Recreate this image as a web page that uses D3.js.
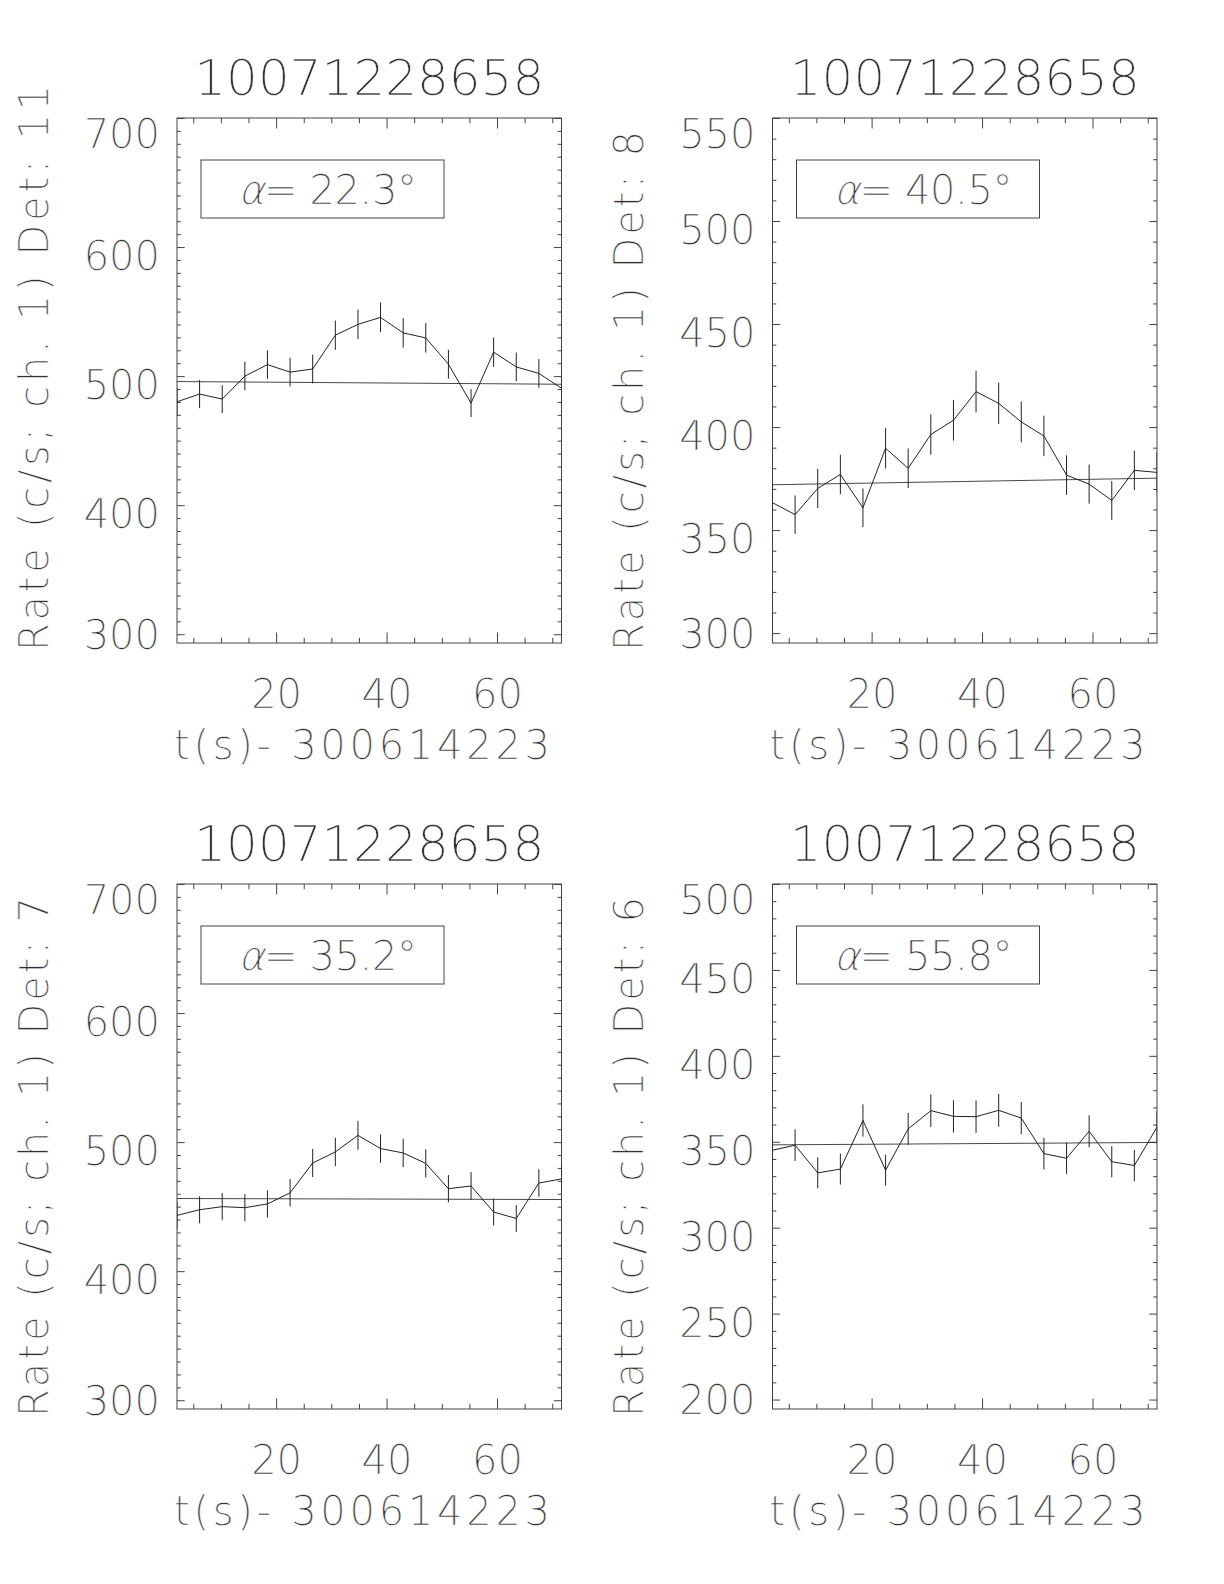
<!DOCTYPE html>
<html>
<head>
<script src="https://d3js.org/d3.v7.min.js"></script>
<style>
  body { margin: 0; background: #fff; }
</style>
</head>
<body>
<svg id="chart" width="1224" height="1584"></svg>
<script>
// time bins (s) after 300614223
var times = [2.05, 6.14, 10.24, 14.34, 18.43, 22.53, 26.62, 30.72, 34.82,
             38.91, 43.01, 47.10, 51.20, 55.30, 59.39, 63.49, 67.58, 71.68];

var titleText = "10071228658";
var xTitle = "t(s)- 300614223";
var xTicks = [20, 40, 60];

// detector 11
var det11Rate = [480.1, 486.1, 482.2, 500.0, 508.9, 503.1, 505.5, 531.7, 540.1,
                 545.5, 533.5, 529.6, 509.2, 479.1, 518.6, 507.1, 502.1, 490.6];
var det11Err = [10.8, 10.9, 10.8, 11.0, 11.1, 11.1, 11.1, 11.4, 11.5,
                11.5, 11.4, 11.4, 11.2, 10.8, 11.3, 11.1, 11.1, 10.9];
var det11Bg = [495.8, 493.7];

// detector 8
var det8Rate = [363.3, 357.5, 370.2, 377.0, 360.8, 389.7, 380.0, 396.4, 403.3,
                417.2, 411.5, 402.5, 395.7, 376.7, 372.3, 364.4, 379.0, 378.0];
var det8Err = [9.4, 9.3, 9.5, 9.6, 9.4, 9.8, 9.6, 9.8, 9.9,
               10.1, 10.0, 9.9, 9.8, 9.6, 9.5, 9.4, 9.6, 9.6];
var det8Bg = [372.0, 375.2];

// detector 7
var det7Rate = [443.2, 447.6, 450.0, 449.2, 452.1, 460.7, 483.8, 492.4, 505.2,
                495.0, 491.6, 483.5, 463.9, 466.0, 445.8, 440.8, 468.3, 471.5];
var det7Err = [10.4, 10.5, 10.5, 10.5, 10.5, 10.6, 10.9, 11.0, 11.1,
               11.0, 11.0, 10.9, 10.6, 10.7, 10.4, 10.4, 10.7, 10.7];
var det7Bg = [456.3, 455.5];

// detector 6
var det6Rate = [345.1, 348.0, 331.9, 334.1, 362.4, 333.5, 357.5, 368.1, 364.8,
                364.6, 368.3, 363.8, 343.1, 340.4, 356.1, 338.4, 336.2, 358.5];
var det6Err = [9.2, 9.2, 9.0, 9.0, 9.4, 9.0, 9.3, 9.5, 9.4,
               9.4, 9.5, 9.4, 9.2, 9.1, 9.3, 9.1, 9.1, 9.4];
var det6Bg = [348.2, 349.6];

var panels = [
  {det: "11", alpha: "22.3", rate: det11Rate, err: det11Err, bg: det11Bg,
   yDomain: [293.2, 700], yTicks: [300, 400, 500, 600, 700], yMinor: 10, col: 0, row: 0},
  {det: "8", alpha: "40.5", rate: det8Rate, err: det8Err, bg: det8Bg,
   yDomain: [295.2, 550], yTicks: [300, 350, 400, 450, 500, 550], yMinor: 10, col: 1, row: 0},
  {det: "7", alpha: "35.2", rate: det7Rate, err: det7Err, bg: det7Bg,
   yDomain: [293.2, 700], yTicks: [300, 400, 500, 600, 700], yMinor: 10, col: 0, row: 1},
  {det: "6", alpha: "55.8", rate: det6Rate, err: det6Err, bg: det6Bg,
   yDomain: [194.5, 500], yTicks: [200, 250, 300, 350, 400, 450, 500], yMinor: 10, col: 1, row: 1}
];

var lefts = [177, 772.5];
var tops = [118, 884];
var w = 384.5, h = 525;
var ink = "#222";

var svg = d3.select("#chart");

// thin vector-like lettering
function thin(sel, size) {
  return sel.attr("font-family", null).attr("font-size", null).attr("fill", null)
    .style("font-family", "'DejaVu Sans'")
    .style("font-weight", "200")
    .style("font-size", size + "px")
    .style("fill", "#333")
    .style("stroke", "#fff")
    .style("stroke-width", "0.5px");
}

panels.forEach(function(p, k) {
  var x0 = lefts[p.col], y0 = tops[p.row];
  var g = svg.append("g").attr("transform", "translate(" + x0 + "," + y0 + ")");

  var x = d3.scaleLinear().domain([times[0], times[times.length - 1]]).range([0, w]);
  var y = d3.scaleLinear().domain(p.yDomain).range([h, 0]);

  var xMinorVals = d3.range(5, 71, 5).filter(function(v) { return xTicks.indexOf(v) < 0; });
  var yMinorVals = d3.range(Math.ceil(p.yDomain[0] / p.yMinor) * p.yMinor, p.yDomain[1], p.yMinor)
    .filter(function(v) { return p.yTicks.indexOf(v) < 0; });

  function styleAxis(sel) {
    sel.select(".domain").remove();
    sel.selectAll("line").attr("stroke", "#444");
  }

  // x axes, bottom and top
  g.append("g").attr("transform", "translate(0," + h + ")")
    .call(d3.axisBottom(x).tickValues(xTicks).tickSize(-10.5).tickFormat(d3.format("d")))
    .call(styleAxis)
    .call(function(a) {
      thin(a.selectAll("text").attr("y", 64.5).attr("dy", null), 40);
    });
  g.append("g").attr("transform", "translate(0," + h + ")")
    .call(d3.axisBottom(x).tickValues(xMinorVals).tickSize(-5.25).tickFormat(""))
    .call(styleAxis);
  g.append("g")
    .call(d3.axisTop(x).tickValues(xTicks).tickSize(-10.5).tickFormat(""))
    .call(styleAxis);
  g.append("g")
    .call(d3.axisTop(x).tickValues(xMinorVals).tickSize(-5.25).tickFormat(""))
    .call(styleAxis);

  // y axes, left and right; end labels are nudged inward
  var nTicks = p.yTicks.length;
  g.append("g")
    .call(d3.axisLeft(y).tickValues(p.yTicks).tickSize(-7.7).tickFormat(d3.format("d")))
    .call(styleAxis)
    .call(function(a) {
      thin(a.selectAll("text").attr("x", -17)
        .attr("dy", function(d, i) {
          return (i === 0 ? 14 : i === nTicks - 1 ? 29 : 22.5) + "px";
        }), 40);
    });
  g.append("g")
    .call(d3.axisLeft(y).tickValues(yMinorVals).tickSize(-3.85).tickFormat(""))
    .call(styleAxis);
  g.append("g").attr("transform", "translate(" + w + ",0)")
    .call(d3.axisRight(y).tickValues(p.yTicks).tickSize(-7.7).tickFormat(""))
    .call(styleAxis);
  g.append("g").attr("transform", "translate(" + w + ",0)")
    .call(d3.axisRight(y).tickValues(yMinorVals).tickSize(-3.85).tickFormat(""))
    .call(styleAxis);

  // frame
  g.append("rect").attr("width", w).attr("height", h)
    .attr("fill", "none").attr("stroke", "#444").attr("stroke-width", 1);

  var clipId = "clip" + k;
  g.append("clipPath").attr("id", clipId).append("rect").attr("width", w).attr("height", h);
  var plot = g.append("g").attr("clip-path", "url(#" + clipId + ")");

  // background fit
  plot.append("line")
    .attr("x1", x(times[0])).attr("x2", x(times[times.length - 1]))
    .attr("y1", y(p.bg[0])).attr("y2", y(p.bg[1]))
    .attr("stroke", "#333").attr("stroke-width", 0.9);

  // rate curve
  var line = d3.line().x(function(d, i) { return x(times[i]); }).y(function(d) { return y(d); });
  plot.append("path").datum(p.rate).attr("d", line)
    .attr("fill", "none").attr("stroke", ink).attr("stroke-width", 1);

  // error bars
  plot.selectAll(".err").data(p.rate).enter().append("line")
    .attr("class", "err")
    .attr("x1", function(d, i) { return x(times[i]); })
    .attr("x2", function(d, i) { return x(times[i]); })
    .attr("y1", function(d, i) { return y(d - p.err[i]); })
    .attr("y2", function(d, i) { return y(d + p.err[i]); })
    .attr("stroke", ink).attr("stroke-width", 1);

  // angle label box
  g.append("rect").attr("x", 24).attr("y", 42).attr("width", 243).attr("height", 58)
    .attr("fill", "none").attr("stroke", "#444").attr("stroke-width", 1);
  thin(g.append("text").attr("transform", "translate(61,86) skewX(-14)"), 40).text("\u03b1");
  thin(g.append("text").attr("x", 87).attr("y", 86), 40)
    .attr("textLength", 153).attr("lengthAdjust", "spacing")
    .text("= " + p.alpha + "\u00b0");

  // title
  thin(g.append("text").attr("x", w / 2).attr("y", -23).attr("text-anchor", "middle"), 50)
    .text(titleText);

  // x title
  thin(g.append("text").attr("x", -3).attr("y", h + 116), 40)
    .attr("textLength", 376).attr("lengthAdjust", "spacing")
    .text(xTitle);

  // y title
  var yt = "Rate (c/s; ch. 1) Det: " + p.det;
  var ytLen = p.det.length > 1 ? 566 : 520;
  thin(g.append("text")
    .attr("transform", "translate(" + (-129.5) + "," + (h + 8) + ") rotate(-90)"), 40)
    .attr("textLength", ytLen).attr("lengthAdjust", "spacing")
    .text(yt);
});
</script>
</body>
</html>
